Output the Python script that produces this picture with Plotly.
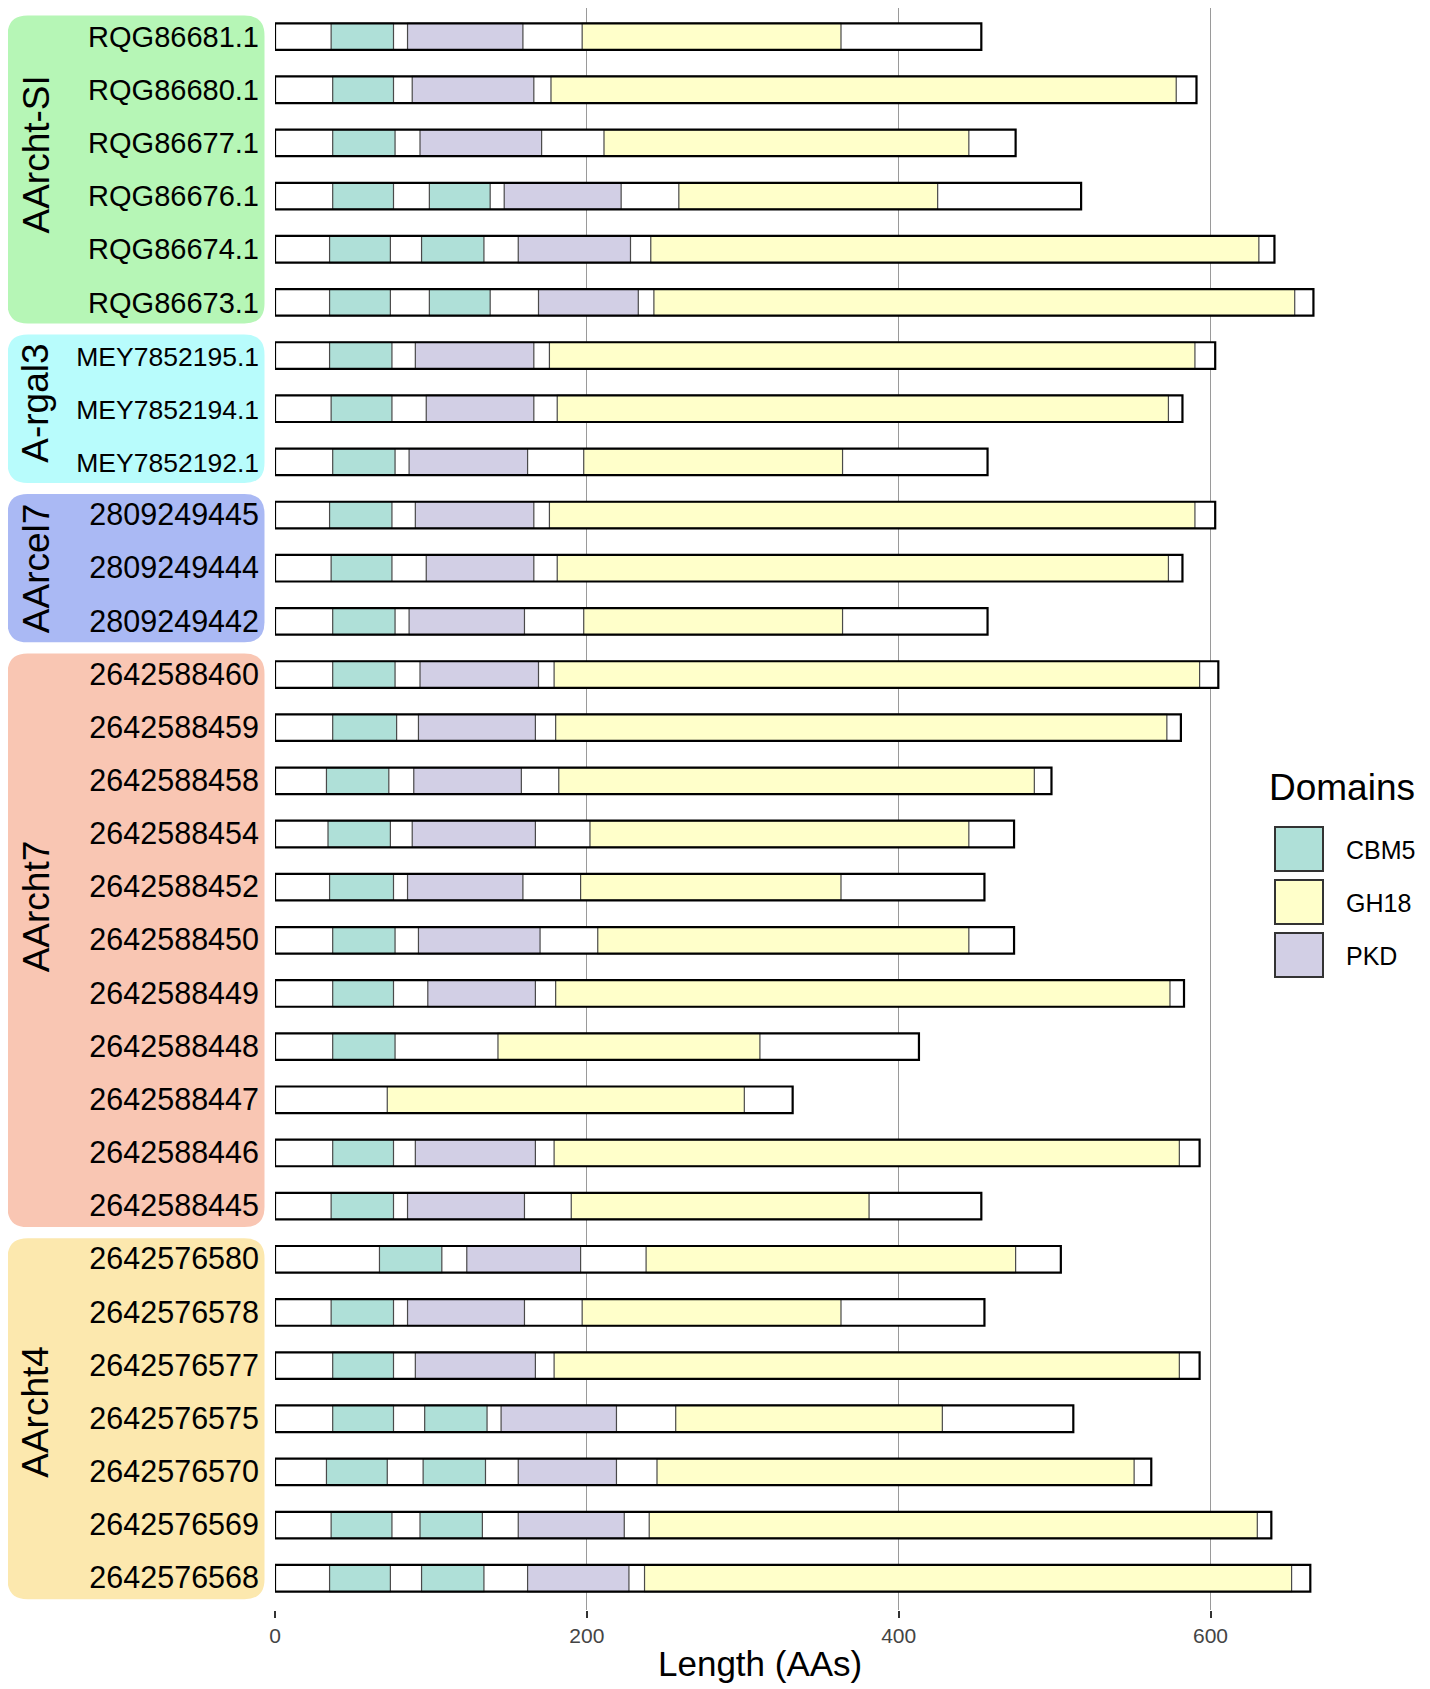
import plotly.graph_objects as go

# ---------------- data ----------------
proteins = ["RQG86681.1", "RQG86680.1", "RQG86677.1", "RQG86676.1", "RQG86674.1", "RQG86673.1",
            "MEY7852195.1", "MEY7852194.1", "MEY7852192.1",
            "2809249445", "2809249444", "2809249442",
            "2642588460", "2642588459", "2642588458", "2642588454", "2642588452", "2642588450",
            "2642588449", "2642588448", "2642588447", "2642588446", "2642588445",
            "2642576580", "2642576578", "2642576577", "2642576575", "2642576570", "2642576569",
            "2642576568"]

group_names = ["AArcht-SI", "A-rgal3", "AArcel7", "AArcht7", "AArcht4"]
group_sizes = [6, 3, 3, 11, 7]

lengths = [453, 591, 475, 517, 641, 666,
           603, 582, 457,
           603, 582, 457,
           605, 581, 498, 474, 455, 474, 583, 413, 332, 593, 453,
           504, 455, 593, 512, 562, 639, 664]

cbm5_start = [36, 37, 37, 37, 35, 35,
              35, 36, 37,
              35, 36, 37,
              37, 37, 33, 34, 35, 37, 37, 37, None, 37, 36,
              67, 36, 37, 37, 33, 36, 35]
cbm5_end = [76, 76, 77, 76, 74, 74,
            75, 75, 77,
            75, 75, 77,
            77, 78, 73, 74, 76, 77, 76, 77, None, 76, 76,
            107, 76, 76, 76, 72, 75, 74]

cbm5b_start = [None, None, None, 99, 94, 99,
               None, None, None,
               None, None, None,
               None, None, None, None, None, None, None, None, None, None, None,
               None, None, None, 96, 95, 93, 94]
cbm5b_end = [None, None, None, 138, 134, 138,
             None, None, None,
             None, None, None,
             None, None, None, None, None, None, None, None, None, None, None,
             None, None, None, 136, 135, 133, 134]

pkd_start = [85, 88, 93, 147, 156, 169,
             90, 97, 86,
             90, 97, 86,
             93, 92, 89, 88, 85, 92, 98, None, None, 90, 85,
             123, 85, 90, 145, 156, 156, 162]
pkd_end = [159, 166, 171, 222, 228, 233,
           166, 166, 162,
           166, 166, 160,
           169, 167, 158, 167, 159, 170, 167, None, None, 167, 160,
           196, 160, 167, 219, 219, 224, 227]

gh18_start = [197, 177, 211, 259, 241, 243,
              176, 181, 198,
              176, 181, 198,
              179, 180, 182, 202, 196, 207, 180, 143, 72, 179, 190,
              238, 197, 179, 257, 245, 240, 237]
gh18_end = [363, 578, 445, 425, 631, 654,
            590, 573, 364,
            590, 573, 364,
            593, 572, 487, 445, 363, 445, 574, 311, 301, 580, 381,
            475, 363, 580, 428, 551, 630, 652]

domain_names = ["CBM5", "GH18", "PKD"]
domain_colors = ["#AFE0D8", "#FFFFCA", "#D2CFE5"]
group_colors = ["#B6F6B6", "#B8FCFC", "#AAB9F4", "#F9C6B3", "#FCE8AE"]

# ---------------- layout constants ----------------
# the page adds an 8px body margin; positions below are in reference-image pixels
OFF = 8
W, H = 1430 - OFF, 1689 - OFF
PLOT_LEFT, PLOT_TOP, PLOT_BOTTOM = 275, 8, 1610
PX_PER_UNIT = 1.5592
ML = PLOT_LEFT - OFF
MT = PLOT_TOP - OFF
PW = 1146
MR = W - ML - PW
PH = PLOT_BOTTOM - PLOT_TOP
MB = H - MT - PH
X_MAX = PW / PX_PER_UNIT
ROW_PX = 53.16
Y_TOP = -(36.6 - PLOT_TOP) / ROW_PX
Y_BOT = Y_TOP + PH / ROW_PX
FONT = "Liberation Sans, Arial, Helvetica, sans-serif"


def row_px(r):
    return PLOT_TOP + (r - Y_TOP) / (Y_BOT - Y_TOP) * PH


def px_x(px):
    return (px - PLOT_LEFT) / PW


def px_y(py):
    return (PLOT_BOTTOM - py) / PH


def label_size(name):
    if name.startswith("MEY"):
        return 26.5
    if name[0].isdigit():
        return 30.5
    return 29


rows = list(range(len(proteins)))
ticktext = [f'<span style="font-size:{label_size(p)}px">{p}</span>' for p in proteins]

fig = go.Figure()

# full-length protein backgrounds
fig.add_trace(go.Bar(y=rows, x=lengths, base=[0] * len(rows), orientation="h", width=0.5,
                     marker=dict(color="white", line=dict(width=0)),
                     showlegend=False, hoverinfo="skip"))


def seg(starts, ends):
    ys, bs, xs = [], [], []
    for i, (s, e) in enumerate(zip(starts, ends)):
        if s is not None and e is not None:
            ys.append(i)
            bs.append(s)
            xs.append(e - s)
    return ys, bs, xs


c1 = seg(cbm5_start, cbm5_end)
c2 = seg(cbm5b_start, cbm5b_end)
domain_segments = {
    "CBM5": (c1[0] + c2[0], c1[1] + c2[1], c1[2] + c2[2]),
    "GH18": seg(gh18_start, gh18_end),
    "PKD": seg(pkd_start, pkd_end),
}
for name, col in zip(domain_names, domain_colors):
    ys, bs, xs = domain_segments[name]
    fig.add_trace(go.Bar(y=ys, x=xs, base=bs, orientation="h", width=0.5, name=name,
                         marker=dict(color=col, line=dict(color="#4a4a4a", width=1.2)),
                         showlegend=False))

# protein outlines on top
fig.add_trace(go.Bar(y=rows, x=lengths, base=[0] * len(rows), orientation="h", width=0.5,
                     marker=dict(color="rgba(0,0,0,0)", line=dict(color="black", width=2.2)),
                     showlegend=False, hoverinfo="skip"))

shapes = []
annotations = []

# group boxes and labels
label_nudge_px = [-15, -5, 0, -34, -7]
start = 0
R = 20
for gname, gsize, gcol, nudge in zip(group_names, group_sizes, group_colors, label_nudge_px):
    f, l = start, start + gsize - 1
    top = row_px(f) - 21
    bot = row_px(l) + 21
    x0, x1 = px_x(7.5), px_x(264.5)
    yt, yb = px_y(top), px_y(bot)
    rx = R / PW
    ry = R / PH
    path = (f"M {x0 + rx},{yt} L {x1 - rx},{yt} Q {x1},{yt} {x1},{yt - ry} "
            f"L {x1},{yb + ry} Q {x1},{yb} {x1 - rx},{yb} "
            f"L {x0 + rx},{yb} Q {x0},{yb} {x0},{yb + ry} "
            f"L {x0},{yt - ry} Q {x0},{yt} {x0 + rx},{yt} Z")
    shapes.append(dict(type="path", path=path, xref="paper", yref="paper",
                       fillcolor=gcol, line=dict(width=0), layer="below"))
    annotations.append(dict(text=gname, xref="paper", yref="paper",
                            x=px_x(36), y=px_y((top + bot) / 2 + nudge),
                            textangle=-90, showarrow=False, xanchor="center", yanchor="middle",
                            font=dict(family=FONT, size=37, color="black")))
    start += gsize

# custom legend
annotations.append(dict(text="Domains", xref="paper", yref="paper", x=px_x(1267), y=px_y(787),
                        xanchor="left", yanchor="middle", showarrow=False,
                        font=dict(family=FONT, size=37, color="black")))
legend_tops = [827, 880, 933]
for name, col, ty in zip(domain_names, domain_colors, legend_tops):
    shapes.append(dict(type="rect", xref="paper", yref="paper",
                       x0=px_x(1275), x1=px_x(1323), y0=px_y(ty), y1=px_y(ty + 44),
                       fillcolor=col, line=dict(color="#333333", width=2)))
    annotations.append(dict(text=name, xref="paper", yref="paper", x=px_x(1344), y=px_y(ty + 23),
                            xanchor="left", yanchor="middle", showarrow=False,
                            font=dict(family=FONT, size=25, color="black")))

# x axis title
annotations.append(dict(text="Length (AAs)", xref="x", yref="paper", x=311, y=px_y(1663),
                        xanchor="center", yanchor="middle", showarrow=False,
                        font=dict(family=FONT, size=35, color="black")))

fig.update_layout(
    width=W, height=H,
    margin=dict(l=ML, r=MR, t=MT, b=MB, pad=0),
    barmode="overlay",
    plot_bgcolor="white", paper_bgcolor="white",
    shapes=shapes, annotations=annotations,
    font=dict(family=FONT),
)
fig.update_xaxes(range=[0, X_MAX], tickvals=[0, 200, 400, 600], showgrid=True,
                 gridcolor="#9a9a9a", gridwidth=1.2, zeroline=False, showline=False,
                 ticks="outside", ticklen=7, tickwidth=1.5, tickcolor="#333333",
                 tickfont=dict(family=FONT, size=21, color="#444444"), ticklabelstandoff=0)
fig.update_yaxes(range=[Y_BOT, Y_TOP], tickvals=rows, ticktext=ticktext, showgrid=False,
                 zeroline=False, showline=False, ticks="", ticklabelstandoff=15,
                 tickfont=dict(family=FONT, size=29, color="black"))

fig.write_html("out.html")
